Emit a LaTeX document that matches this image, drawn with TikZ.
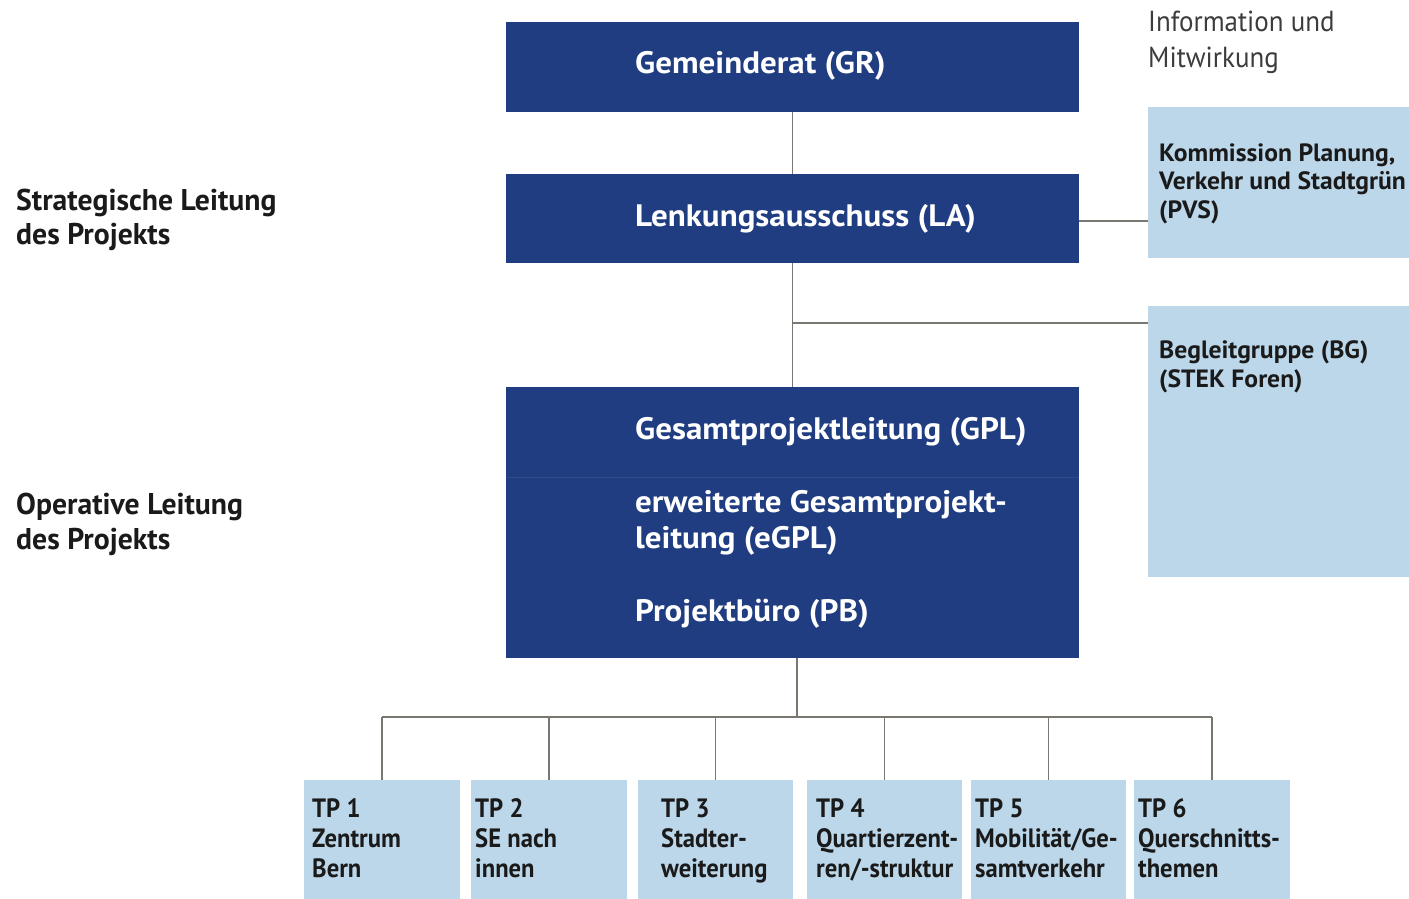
\documentclass[tikz,border=0pt]{standalone}
\usepackage{fontspec}
\setmainfont{PT Sans}[FakeStretch=0.93]
\newfontfamily\fwide{PT Sans}[FakeStretch=1.065]
\newfontfamily\flightbox{PT Sans}[FakeStretch=1.025]
\newfontfamily\fside{PT Sans}[FakeStretch=0.99]
\definecolor{dblue}{HTML}{1F3D80}
\definecolor{lblue}{HTML}{BCD7EA}
\definecolor{conncol}{HTML}{7A7670}
\definecolor{txtdark}{HTML}{1A1A1A}
\begin{document}
\begin{tikzpicture}[x=1pt,y=-1pt,
  darkbox/.style={fill=dblue, draw=none, inner sep=0pt, anchor=north west},
  lightbox/.style={fill=lblue, draw=none, inner sep=0pt, anchor=north west},
  whitetxt/.style={text=white, font=\fwide\bfseries\fontsize{31}{31}\selectfont, inner sep=0pt, anchor=base west},
  sidetxt/.style={text=txtdark, font=\fside\bfseries\fontsize{30}{30}\selectfont, inner sep=0pt, anchor=base west},
  infotxt/.style={text=txtdark!85, font=\fontsize{29}{29}\selectfont, inner sep=0pt, anchor=base west},
  boxtxt/.style={text=txtdark, font=\flightbox\bfseries\fontsize{25}{25}\selectfont, inner sep=0pt, anchor=base west},
  tptxt/.style={text=txtdark, font=\bfseries\fontsize{26.5}{26.5}\selectfont, inner sep=0pt, anchor=base west},
  conn/.style={draw=conncol, line width=1.5pt}]
\useasboundingbox (0,0) rectangle (1409,899);

% dark boxes
\node[darkbox, minimum width=573pt, minimum height=90pt] (gr) at (506,22) {};
\node[darkbox, minimum width=573pt, minimum height=89pt] (la) at (506,174) {};
\node[darkbox, minimum width=573pt, minimum height=271pt] (gpl) at (506,387) {};
\draw[draw=dblue!93!white, line width=0.8pt] (gpl.west |- 0,477) -- (gpl.east |- 0,477);

% light boxes right
\node[lightbox, minimum width=261pt, minimum height=151pt] (pvs) at (1148,107) {};
\node[lightbox, minimum width=261pt, minimum height=271pt] (bg) at (1148,306) {};

% TP boxes
\node[lightbox, minimum width=156pt, minimum height=119pt] (tp1) at (304,780) {};
\node[lightbox, minimum width=156pt, minimum height=119pt] (tp2) at (471,780) {};
\node[lightbox, minimum width=155pt, minimum height=119pt] (tp3) at (638,780) {};
\node[lightbox, minimum width=155pt, minimum height=119pt] (tp4) at (807,780) {};
\node[lightbox, minimum width=155pt, minimum height=119pt] (tp5) at (971,780) {};
\node[lightbox, minimum width=156pt, minimum height=119pt] (tp6) at (1134,780) {};

% texts in dark boxes
\node[whitetxt] (grt) at (635,74) {Gemeinderat (GR)};
\node[whitetxt] (lat) at (635,226) {Lenkungsausschuss (LA)};
\node[whitetxt] (gplt) at (635,439) {Gesamtprojektleitung (GPL)};
\node[whitetxt] (egpla) at (635,512) {erweiterte Gesamtprojekt-};
\node[whitetxt] (egplb) at (635,548) {leitung (eGPL)};
\node[whitetxt] (pbt) at (635,621) {Projektbüro (PB)};

% side labels
\node[sidetxt] (sa) at (16,210) {Strategische Leitung};
\node[sidetxt] (sb) at (16,244) {des Projekts};
\node[sidetxt] (oa) at (16,514) {Operative Leitung};
\node[sidetxt] (ob) at (16,549) {des Projekts};

% info
\node[infotxt] (ia) at (1148,32) {Information und};
\node[infotxt] (ib) at (1148,67) {Mitwirkung};

% right box texts
\node[boxtxt] (pa) at (1159,161) {Kommission Planung,};
\node[boxtxt] (pb) at (1159,189) {Verkehr und Stadtgrün};
\node[boxtxt] (pc) at (1159,218) {(PVS)};
\node[boxtxt] (ba) at (1159,358) {Begleitgruppe (BG)};
\node[boxtxt] (bb) at (1159,387) {(STEK Foren)};

% TP texts
\node[tptxt] (t1a) at (312,817) {TP 1};
\node[tptxt] (t1b) at (312,847) {Zentrum};
\node[tptxt] (t1c) at (312,877) {Bern};
\node[tptxt] (t2a) at (475,817) {TP 2};
\node[tptxt] (t2b) at (475,847) {SE nach};
\node[tptxt] (t2c) at (475,877) {innen};
\node[tptxt] (t3a) at (661,817) {TP 3};
\node[tptxt] (t3b) at (661,847) {Stadter-};
\node[tptxt] (t3c) at (661,877) {weiterung};
\node[tptxt] (t4a) at (816,817) {TP 4};
\node[tptxt] (t4b) at (816,847) {Quartierzent-};
\node[tptxt] (t4c) at (816,877) {ren/-struktur};
\node[tptxt] (t5a) at (975,817) {TP 5};
\node[tptxt] (t5b) at (975,847) {Mobilität/Ge-};
\node[tptxt] (t5c) at (975,877) {samtverkehr};
\node[tptxt] (t6a) at (1138,817) {TP 6};
\node[tptxt] (t6b) at (1138,847) {Querschnitts-};
\node[tptxt] (t6c) at (1138,877) {themen};

% connectors
\coordinate (bgj) at (793,323);
\coordinate (bus) at (797,717);
\draw[conn] (gr.south) -- (la.north);
\draw[conn] (la.south) -- (gpl.north);
\draw[conn] (la.east |- 0,221) -- (pvs.west |- 0,221);
\draw[conn] (bgj) -- (bgj -| bg.west);
\draw[conn] (gpl.south -| bus) -- (bus);
\draw[conn] (tp1.north |- bus) -- (tp6.north |- bus);
\foreach \t in {tp1,tp2,tp3,tp4,tp5,tp6}{
  \draw[conn] (\t.north |- bus) -- (\t.north);
}
\end{tikzpicture}
\end{document}
